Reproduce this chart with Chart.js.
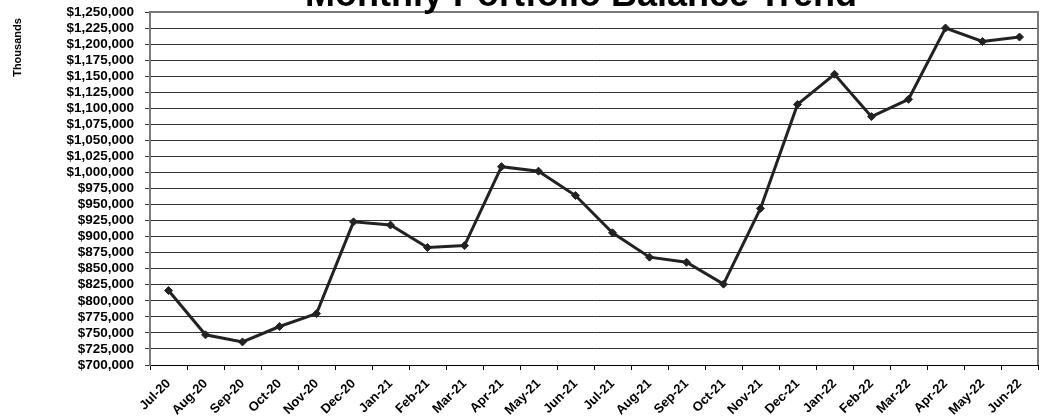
<!DOCTYPE html>
<html>
<head>
<meta charset="utf-8">
<title>Monthly Portfolio Balance Trend</title>
<script src="https://cdn.jsdelivr.net/npm/chart.js@4.4.1/dist/chart.umd.min.js"></script>
<style>
  html, body { margin: 0; padding: 0; background: #fff; }
  #wrap { width: 1043px; height: 417px; }
</style>
</head>
<body>
<div id="wrap"><canvas id="graficoSaldo"></canvas></div>
<script>
// ============================
// DADOS
// ============================
const meses = [
  'Jul-20', 'Aug-20', 'Sep-20', 'Oct-20', 'Nov-20', 'Dec-20',
  'Jan-21', 'Feb-21', 'Mar-21', 'Apr-21', 'May-21', 'Jun-21',
  'Jul-21', 'Aug-21', 'Sep-21', 'Oct-21', 'Nov-21', 'Dec-21',
  'Jan-22', 'Feb-22', 'Mar-22', 'Apr-22', 'May-22', 'Jun-22'
];

const saldos = [
  816000, 747000, 736000, 760000, 780000, 923000,
  918000, 883000, 886000, 1009000, 1002000, 964000,
  906000, 868000, 860000, 826000, 944000, 1106000,
  1153000, 1087000, 1114000, 1225000, 1204000, 1211000
];

const eixoMin = 700000;
const eixoMax = 1250000;
const eixoPasso = 25000;

const tituloGrafico = 'Monthly Portfolio Balance Trend';
const tituloEixoY = 'Thousands';

const fonte = "'Liberation Sans', Arial, sans-serif";

// ============================
// TEXTOS E MOLDURA
// ============================
const extras = {
  id: 'extras',
  afterDraw(chart) {
    const { ctx, chartArea } = chart;
    ctx.save();

    // moldura cinza em volta da área do gráfico
    ctx.strokeStyle = '#7a7a7a';
    ctx.lineWidth = 2;
    ctx.beginPath();
    ctx.moveTo(chartArea.left, chartArea.bottom);
    ctx.lineTo(chartArea.left, chartArea.top);
    ctx.lineTo(chartArea.right, chartArea.top);
    ctx.lineTo(chartArea.right, chartArea.bottom);
    ctx.stroke();

    // título (cortado no topo)
    ctx.fillStyle = '#000';
    ctx.font = `bold 36px ${fonte}`;
    ctx.textAlign = 'center';
    ctx.textBaseline = 'alphabetic';
    ctx.fillText(tituloGrafico, 581, 6);

    // título do eixo Y
    ctx.translate(20.5, 47.5);
    ctx.rotate(-Math.PI / 2);
    ctx.font = `bold 11px ${fonte}`;
    ctx.fillText(tituloEixoY, 0, 0);

    ctx.restore();
  }
};

// ============================
// GRÁFICO
// ============================
const ctx = document.getElementById('graficoSaldo').getContext('2d');

new Chart(ctx, {
  type: 'line',
  data: {
    labels: meses,
    datasets: [{
      data: saldos,
      borderColor: '#222',
      backgroundColor: '#222',
      borderWidth: 3,
      pointStyle: 'rectRot',
      pointRadius: 4,
      pointBorderWidth: 1,
      tension: 0
    }]
  },
  options: {
    responsive: true,
    maintainAspectRatio: false,
    animation: false,
    layout: { padding: { top: 12, right: 1, left: 0, bottom: 0 } },
    plugins: {
      legend: { display: false },
      tooltip: { enabled: false }
    },
    scales: {
      x: {
        offset: true,
        afterFit: s => {
          s.height = 52;
          s.paddingLeft = 0;
          s.paddingRight = 0;
        },
        grid: {
          offset: true,
          drawOnChartArea: false,
          color: '#000',
          tickLength: 5
        },
        border: { color: '#000', width: 1 },
        ticks: {
          color: '#000',
          font: { family: fonte, size: 13, weight: 'bold' },
          minRotation: 45,
          maxRotation: 45,
          autoSkip: false,
          padding: 6
        }
      },
      y: {
        min: eixoMin,
        max: eixoMax,
        afterFit: s => {
          s.width = 150;
          s.paddingTop = 0;
          s.paddingBottom = 0;
        },
        grid: {
          color: '#333',
          lineWidth: 1,
          tickLength: 5
        },
        border: { color: '#7a7a7a', width: 2 },
        ticks: {
          stepSize: eixoPasso,
          autoSkip: false,
          color: '#000',
          padding: 11,
          font: { family: fonte, size: 13.5, weight: 'bold' },
          callback: v => '$' + v.toLocaleString('en-US')
        }
      }
    }
  },
  plugins: [extras]
});
</script>
</body>
</html>
